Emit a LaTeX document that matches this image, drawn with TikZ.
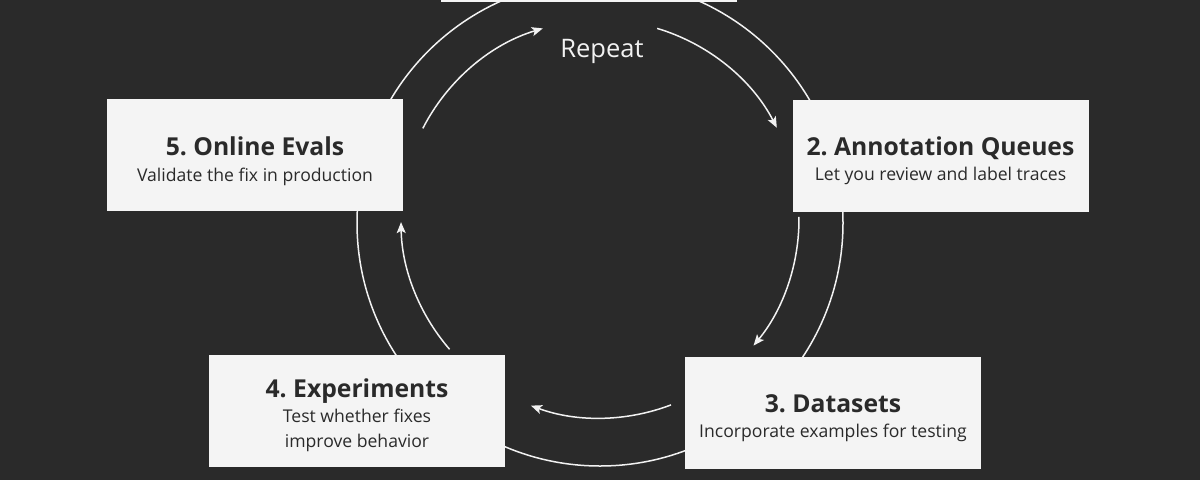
\documentclass[tikz,border=0pt]{standalone}
\usepackage{fontspec}
\setmainfont{Open Sans}
\usetikzlibrary{arrows.meta,calc}
\definecolor{bgc}{HTML}{2A2A2A}
\definecolor{boxc}{HTML}{F4F4F4}
\definecolor{txtc}{HTML}{2A2A2A}
\definecolor{linec}{HTML}{F2F2F2}
\tikzset{
  stepbox/.style={draw=none, fill=boxc, minimum width=296pt, minimum height=112pt, inner sep=0pt},
  ttl/.style={anchor=base, text=txtc, font=\fontsize{24.7}{28}\selectfont\bfseries, inner sep=0pt},
  sub/.style={anchor=base, text=txtc, font=\fontsize{17.6}{25}\selectfont, inner sep=0pt, align=center},
  ring/.style={draw=linec, line width=1.5pt},
  flow/.style={draw=linec, line width=1.5pt, -{Stealth[length=11pt,width=9pt,inset=2.5pt]}}
}
\begin{document}
\begin{tikzpicture}[x=1pt,y=-1pt]
\useasboundingbox (0,0) rectangle (1200,480);
\fill[bgc] (0,0) rectangle (1200,480);
\clip (0,0) rectangle (1200,480);
% outer ring
\coordinate (oc) at (600,223);
\draw[ring] (oc) circle[radius=243pt];
% boxes
\node[stepbox] (box1) at (589,-54) {};
\node[stepbox] (box2) at (940.5,156) {};
\node[stepbox] (box3) at (833,412.5) {};
\node[stepbox] (box4) at (357,411) {};
\node[stepbox] (box5) at (255,155) {};
% texts
\node[ttl] (t2) at ($(box2.center)+(0,-1)$) {2.~Annotation Queues};
\node[sub] (s2) at ($(box2.center)+(0,24)$) {Let you review and label traces};
\node[ttl] (t3) at ($(box3.center)+(0,0)$) {3.~Datasets};
\node[sub] (s3) at ($(box3.center)+(0,25)$) {Incorporate examples for testing};
\node[ttl] (t4) at ($(box4.center)+(0,-14)$) {4.~Experiments};
\node[sub] (s4) at ($(box4.center)+(0,11)$) {Test whether fixes};
\node[sub] (s4b) at ($(box4.center)+(0,36)$) {improve behavior};
\node[ttl] (t5) at ($(box5.center)+(0,0)$) {5.~Online Evals};
\node[sub] (s5) at ($(box5.center)+(0,26)$) {Validate the fix in production};
\node[anchor=base, text=linec, font=\fontsize{25.5}{28}\selectfont, inner sep=0pt] (rep) at (602,57) {Repeat};
% inner flow arcs
\coordinate (ic) at (600,219);
\coordinate (a1) at ($(ic)+(152.9:199pt)$);
\coordinate (a2) at ($(ic)+(73.3:199pt)$);
\coordinate (a3) at ($(ic)+(0.6:199pt)$);
\coordinate (a4) at ($(ic)+(-69.1:199pt)$);
\coordinate (a5) at ($(ic)+(-139.1:199pt)$);
\draw[flow] (a1) arc[start angle=152.9, end angle=106.7, radius=199pt];
\draw[flow] (a2) arc[start angle=73.3, end angle=27.3, radius=199pt];
\draw[flow] (a3) arc[start angle=0.6, end angle=-39.5, radius=199pt];
\draw[flow] (a4) arc[start angle=-69.1, end angle=-110.3, radius=199pt];
\draw[flow] (a5) arc[start angle=-139.1, end angle=-179.1, radius=199pt];
\end{tikzpicture}
\end{document}
